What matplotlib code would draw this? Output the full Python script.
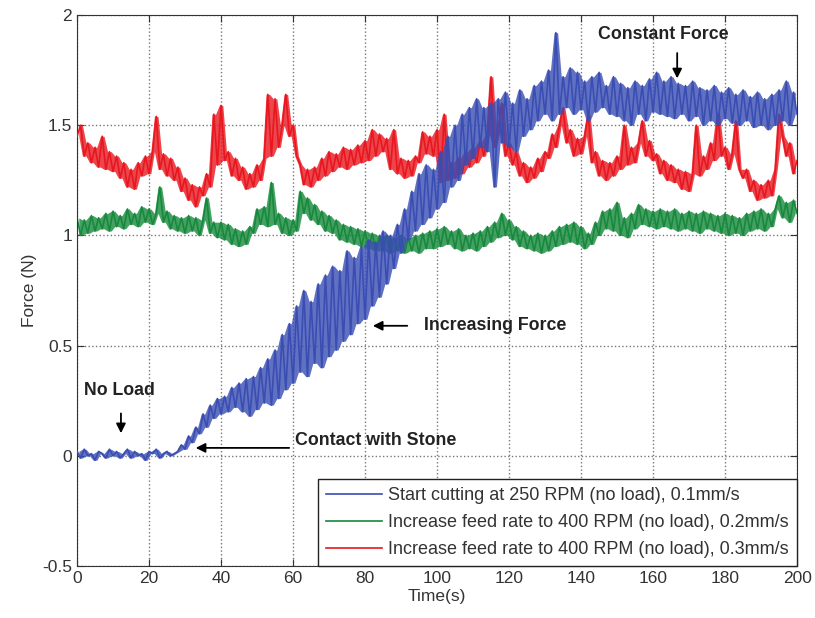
import numpy as np
import matplotlib
matplotlib.use("Agg")
import matplotlib.pyplot as plt
from matplotlib.ticker import FormatStrFormatter

# ---- data (1 sample per second, 0..200 s) ----
blue_force = [
    0.02, -0.01, 0.03, 0.00, 0.01, -0.02, 0.02, 0.01, -0.01, 0.03,
    0.00, 0.02, -0.01, 0.01, 0.03, -0.01, 0.02, 0.00, 0.01, -0.02,
    0.02, 0.01, 0.03, -0.01, 0.01, 0.02, 0.00, 0.01, 0.02, 0.05,
    0.03, 0.09, 0.06, 0.13, 0.10, 0.19, 0.13, 0.23, 0.17, 0.26,
    0.19, 0.27, 0.20, 0.31, 0.22, 0.33, 0.20, 0.35, 0.18, 0.36,
    0.21, 0.40, 0.24, 0.44, 0.23, 0.48, 0.26, 0.55, 0.30, 0.60,
    0.33, 0.68, 0.38, 0.75, 0.36, 0.70, 0.42, 0.78, 0.40, 0.82,
    0.45, 0.86, 0.48, 0.84, 0.52, 0.93, 0.55, 0.90, 0.60, 0.95,
    0.62, 0.98, 0.68, 0.97, 0.72, 1.02, 0.78, 1.00, 0.85, 1.05,
    0.92, 1.12, 0.98, 1.20, 1.02, 1.28, 1.05, 1.32, 1.08, 1.30,
    1.12, 1.38, 1.15, 1.45, 1.22, 1.50, 1.25, 1.55, 1.32, 1.58,
    1.35, 1.62, 1.40, 1.58, 1.38, 1.60, 1.22, 1.62, 1.42, 1.65,
    1.40, 1.60, 1.38, 1.66, 1.45, 1.62, 1.48, 1.68, 1.52, 1.70,
    1.55, 1.75, 1.52, 1.92, 1.55, 1.72, 1.58, 1.76, 1.55, 1.74,
    1.57, 1.70, 1.52, 1.72, 1.56, 1.74, 1.58, 1.68, 1.55, 1.72,
    1.54, 1.69, 1.52, 1.67, 1.50, 1.70, 1.55, 1.68, 1.52, 1.71,
    1.56, 1.74, 1.55, 1.70, 1.54, 1.72, 1.53, 1.69, 1.55, 1.68,
    1.52, 1.70, 1.54, 1.67, 1.50, 1.66, 1.52, 1.68, 1.50, 1.65,
    1.53, 1.67, 1.51, 1.64, 1.50, 1.66, 1.52, 1.63, 1.49, 1.65,
    1.50, 1.62, 1.48, 1.64, 1.50, 1.66, 1.52, 1.70, 1.50, 1.65,
    1.55,
]

green_force = [
    1.08, 1.00, 1.07, 1.01, 1.09, 1.02, 1.08, 1.03, 1.10, 1.02,
    1.11, 1.04, 1.09, 1.03, 1.12, 1.05, 1.10, 1.04, 1.13, 1.06,
    1.12, 1.05, 1.10, 1.22, 1.06, 1.11, 1.03, 1.09, 1.02, 1.08,
    1.01, 1.09, 1.02, 1.08, 1.00, 1.07, 1.17, 1.01, 1.06, 0.99,
    1.06, 0.98, 1.05, 0.96, 1.03, 0.95, 1.02, 0.96, 1.04, 1.01,
    1.12, 1.05, 1.13, 1.04, 1.24, 1.05, 1.10, 1.01, 1.08, 1.00,
    1.07, 1.02, 1.20, 1.10, 1.17, 1.07, 1.14, 1.05, 1.11, 1.02,
    1.09, 1.01, 1.07, 0.98, 1.05, 0.97, 1.04, 0.96, 1.03, 0.95,
    1.02, 0.94, 1.01, 0.93, 1.00, 0.93, 1.00, 0.92, 0.99, 0.93,
    1.00, 0.92, 0.99, 0.93, 1.00, 0.92, 1.01, 0.94, 1.02, 0.94,
    1.03, 0.95, 1.04, 0.96, 1.02, 0.94, 1.03, 0.93, 1.00, 0.94,
    1.01, 0.93, 1.02, 0.95, 1.04, 0.97, 1.06, 0.99, 1.10, 1.00,
    1.07, 0.98, 1.04, 0.95, 1.02, 0.94, 1.00, 0.93, 1.01, 0.92,
    1.00, 0.93, 1.02, 0.95, 1.04, 0.96, 1.05, 0.97, 1.06, 0.96,
    1.04, 0.94, 1.01, 0.96, 1.06, 1.00, 1.11, 1.03, 1.12, 1.02,
    1.15, 1.00, 1.08, 0.99, 1.10, 1.03, 1.14, 1.05, 1.12, 1.04,
    1.11, 1.03, 1.12, 1.04, 1.11, 1.03, 1.12, 1.02, 1.10, 1.03,
    1.11, 1.02, 1.10, 1.01, 1.11, 1.03, 1.10, 1.02, 1.09, 1.01,
    1.10, 1.00, 1.09, 1.01, 1.08, 1.00, 1.10, 1.02, 1.11, 1.03,
    1.12, 1.02, 1.10, 1.04, 1.12, 1.18, 1.08, 1.15, 1.06, 1.16,
    1.10,
]

red_force = [
    1.45, 1.50, 1.36, 1.42, 1.33, 1.40, 1.31, 1.45, 1.30, 1.38,
    1.29, 1.36, 1.26, 1.33, 1.22, 1.30, 1.21, 1.33, 1.27, 1.36,
    1.28, 1.38, 1.54, 1.30, 1.37, 1.27, 1.35, 1.25, 1.31, 1.20,
    1.26, 1.16, 1.23, 1.13, 1.22, 1.18, 1.28, 1.22, 1.55, 1.32,
    1.59, 1.34, 1.38, 1.27, 1.35, 1.25, 1.31, 1.21, 1.28, 1.22,
    1.32, 1.25, 1.35, 1.64, 1.36, 1.62, 1.40, 1.50, 1.64, 1.45,
    1.50, 1.36, 1.32, 1.23, 1.30, 1.22, 1.31, 1.25, 1.35, 1.27,
    1.38, 1.29, 1.37, 1.31, 1.40, 1.30, 1.39, 1.32, 1.41, 1.33,
    1.43, 1.34, 1.48, 1.36, 1.46, 1.38, 1.44, 1.30, 1.48, 1.28,
    1.35, 1.26, 1.34, 1.27, 1.36, 1.33, 1.47, 1.37, 1.45, 1.36,
    1.48, 1.24, 1.55, 1.25, 1.33, 1.26, 1.35, 1.28, 1.38, 1.31,
    1.40, 1.33, 1.43, 1.36, 1.46, 1.72, 1.40, 1.47, 1.60, 1.36,
    1.42, 1.32, 1.38, 1.27, 1.33, 1.24, 1.31, 1.26, 1.35, 1.29,
    1.38, 1.35, 1.46, 1.40, 1.50, 1.58, 1.42, 1.48, 1.36, 1.44,
    1.37, 1.45, 1.55, 1.33, 1.38, 1.27, 1.34, 1.25, 1.33, 1.27,
    1.36, 1.30, 1.50, 1.32, 1.40, 1.33, 1.42, 1.52, 1.36, 1.43,
    1.34, 1.37, 1.28, 1.34, 1.25, 1.32, 1.24, 1.30, 1.21, 1.29,
    1.20, 1.28, 1.50, 1.27, 1.36, 1.30, 1.42, 1.34, 1.55, 1.36,
    1.40, 1.30, 1.37, 1.52, 1.30, 1.26, 1.30, 1.20, 1.25, 1.16,
    1.23, 1.17, 1.25, 1.18, 1.30, 1.55, 1.45, 1.36, 1.42, 1.28,
    1.34,
]

series_labels = [
    "Start cutting at 250 RPM (no load), 0.1mm/s",
    "Increase feed rate to 400 RPM (no load), 0.2mm/s",
    "Increase feed rate to 400 RPM (no load), 0.3mm/s",
]
x_ticks = [0, 20, 40, 60, 80, 100, 120, 140, 160, 180, 200]
y_ticks = [-0.5, 0, 0.5, 1, 1.5, 2]

plt.rcParams['font.family'] = ['Liberation Sans', 'DejaVu Sans']

fig = plt.figure(figsize=(8.15, 6.18), dpi=100)
ax = fig.add_axes([0.0945, 0.0841, 0.8835, 0.8916])


def draw_signal(values, color, z):
    v = np.asarray(values, dtype=float)
    t = np.linspace(0, 200, len(v))
    # shade the swing between consecutive samples (noise band)
    lo = np.minimum(v[:-1], v[1:])
    hi = np.maximum(v[:-1], v[1:])
    tm = (t[:-1] + t[1:]) / 2
    ax.fill_between(tm, lo, hi, color=color, lw=0, alpha=0.8, zorder=z)
    line, = ax.plot(t, v, color=color, lw=1.2, zorder=z + 0.5)
    return line


lg = draw_signal(green_force, '#17893c', 2)
lr = draw_signal(red_force, '#e8171f', 3)
lb = draw_signal(blue_force, '#3a4db3', 4)

ax.set_xlim(0, 200)
ax.set_ylim(-0.5, 2)
ax.set_xticks(x_ticks)
ax.set_yticks(y_ticks)
ax.yaxis.set_major_formatter(FormatStrFormatter('%g'))
ax.tick_params(direction='in', top=True, right=True, labelsize=12.5,
               colors='#333333', length=5)
ax.grid(True, linestyle=':', color='#777777', linewidth=1.0)
for s in ax.spines.values():
    s.set_color('#333333')
ax.set_xlabel("Time(s)", fontsize=12.5, color='#333333', labelpad=2)
ax.set_ylabel("Force (N)", fontsize=12.5, color='#333333', labelpad=4)

bold = dict(fontsize=12.8, fontweight='bold', color='#222222')
arrow = dict(arrowstyle='-|>', color='black', lw=1.3, mutation_scale=14)

ax.text(162.8, 1.91, "Constant Force", ha='center', va='center', zorder=6, **bold)
ax.annotate("", xy=(166.7, 1.70), xytext=(166.7, 1.84), arrowprops=arrow, zorder=6)

ax.text(11.9, 0.295, "No Load", ha='center', va='center', zorder=6, **bold)
ax.annotate("", xy=(12.2, 0.09), xytext=(12.2, 0.205), arrowprops=arrow, zorder=6)

ax.text(60.6, 0.068, "Contact with Stone", ha='left', va='center', zorder=6, **bold)
ax.annotate("", xy=(32.2, 0.036), xytext=(59.7, 0.036), arrowprops=arrow, zorder=6)

ax.text(96.4, 0.59, "Increasing Force", ha='left', va='center', zorder=6, **bold)
ax.annotate("", xy=(81.4, 0.59), xytext=(92.5, 0.59), arrowprops=arrow, zorder=6)

leg = ax.legend([lb, lg, lr], series_labels, loc='lower right', fontsize=13,
                frameon=True, fancybox=False, framealpha=1, edgecolor='#222222',
                borderaxespad=0, handlelength=3.1, handletextpad=0.35,
                labelspacing=0.55, borderpad=0.45)
leg.get_frame().set_linewidth(1.0)
leg.set_zorder(10)
for txt in leg.get_texts():
    txt.set_color('#333333')
for h in leg.get_lines():
    h.set_linewidth(1.2)

fig.savefig("out.png", dpi=100)
